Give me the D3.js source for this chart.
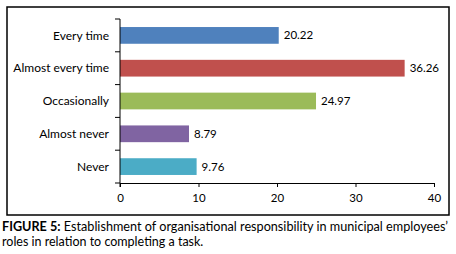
<!DOCTYPE html>
<html><head><meta charset="utf-8">
<script src="https://cdn.jsdelivr.net/npm/d3@7"></script>
<style>body{margin:0;background:#fff}svg{display:block}</style>
</head><body>
<script>
const categories = ["Every time","Almost every time","Occasionally","Almost never","Never"];
const values = [20.22,36.26,24.97,8.79,9.76];
const colors = ["#4F81BD","#C0504D","#9BBB59","#8064A2","#4BACC6"];
const xTicks = [0,10,20,30,40];
const captionBold = "FIGURE 5:";
const captionLine1 = " Establishment of organisational responsibility in municipal employees’";
const captionLine2 = "roles in relation to completing a task.";

const W=456,H=254;
const svg=d3.select("body").append("svg").attr("width",W).attr("height",H);
const font="Lato, 'Open Sans', sans-serif";
svg.append("rect").attr("x",7).attr("y",7).attr("width",442).attr("height",208)
  .attr("fill","none").attr("stroke","#000").attr("stroke-width",1.5);

const x=d3.scaleLinear().domain([0,40]).range([120,434]);
const y=d3.scaleBand().domain(categories).range([19,183]).paddingInner(0.49).paddingOuter(0.245);

svg.selectAll("rect.bar").data(values).join("rect").attr("class","bar")
  .attr("x",x(0)).attr("y",(d,i)=>y(categories[i]))
  .attr("width",d=>x(d)-x(0)).attr("height",y.bandwidth())
  .attr("fill",(d,i)=>colors[i]);

svg.selectAll("text.val").data(values).join("text").attr("class","val")
  .attr("x",d=>x(d)+5).attr("y",(d,i)=>y(categories[i])+y.bandwidth()/2)
  .attr("dy","0.35em").attr("font-family",font).attr("font-size",11.5).attr("fill","#000")
  .text(d=>d.toFixed(2));

// y axis
const ya=svg.append("g").attr("transform","translate(120,0)");
ya.append("line").attr("x1",0).attr("x2",0).attr("y1",19).attr("y2",187).attr("stroke","#000");
const yt=[19].concat(categories.map(c=>y(c)+y.bandwidth()+y.step()*y.paddingInner()/2));
ya.selectAll("line.t").data(yt).join("line").attr("class","t")
  .attr("x1",-5).attr("x2",0).attr("y1",d=>d).attr("y2",d=>d).attr("stroke","#000");
ya.selectAll("text").data(categories).join("text")
  .attr("x",-11).attr("y",d=>y(d)+y.bandwidth()/2).attr("dy","0.35em")
  .attr("text-anchor","end").attr("font-family",font).attr("font-size",12).text(d=>d);

// x axis
const xa=svg.append("g").attr("transform","translate(0,183)")
  .call(d3.axisBottom(x).tickValues(xTicks).tickSize(4).tickPadding(7).tickSizeOuter(0));
xa.select(".domain").attr("stroke","#000");
xa.selectAll(".tick line").attr("stroke","#000");
xa.selectAll(".tick text").attr("font-family",font).attr("font-size",11.5).attr("fill","#000");

const cap=svg.append("text").attr("x",2).attr("y",231).attr("font-family",font).attr("font-size",12.5)
  .attr("textLength",446).attr("lengthAdjust","spacingAndGlyphs");
cap.append("tspan").attr("font-weight","bold").text(captionBold);
cap.append("tspan").text(captionLine1);
svg.append("text").attr("x",2).attr("y",246).attr("font-family",font).attr("font-size",12.5).text(captionLine2);
</script>
</body></html>
